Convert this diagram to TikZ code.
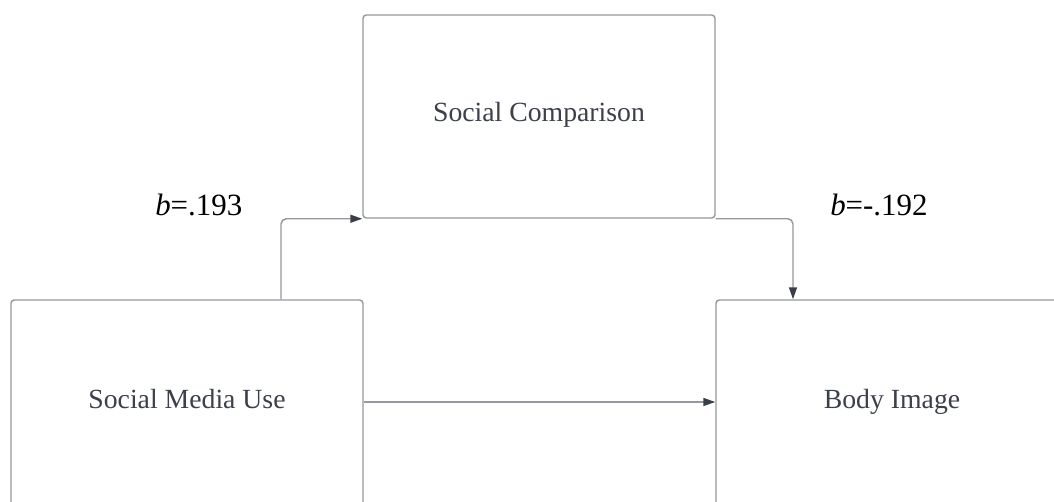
\documentclass[tikz,border=0pt]{standalone}
\usepackage{fontspec}
\setmainfont{Liberation Serif}
\usetikzlibrary{arrows.meta}
\definecolor{boxline}{HTML}{96989D}
\definecolor{txt}{HTML}{3C4049}
\definecolor{tipc}{HTML}{3A3E47}
\tikzset{
  varbox/.style={draw=boxline, line width=1.1pt, rounded corners=2.5pt, fill=white,
    minimum width=264pt, minimum height=152.25pt, inner sep=0pt,
    text=txt, font=\fontsize{20.8}{24}\selectfont,
    text height=14.5pt, text depth=7.75pt},
  lowbox/.style={varbox, minimum height=172.5pt, text depth=25pt},
  conn/.style={draw=boxline, line width=1.1pt, rounded corners=4pt,
    -{Triangle[length=9pt,width=6pt,fill=tipc,color=tipc]}},
  coef/.style={anchor=base west, inner sep=0pt, text=black, font=\fontsize{23.2}{26}\selectfont}
}
\begin{document}
\begin{tikzpicture}[x=0.75pt,y=-0.75pt]
\useasboundingbox (0,0) rectangle (1054,501);
\clip (0,0) rectangle (1054,501);
\node[varbox] (sc) at (539,116.5) {Social Comparison};
\node[lowbox] (smu) at (187,415) {Social Media Use};
\node[lowbox] (bi) at (892,415) {Body Image};
\draw[conn] ([xshift=70.5pt]smu.north) |- (sc.south west);
\draw[conn] (sc.south east) -| ([xshift=-74.25pt]bi.north);
\draw[conn] ([yshift=9.75pt]smu.east) -- ([yshift=9.75pt]bi.west);
\node[coef] (l1) at (155,215) {\textit{b}=.193};
\node[coef] (l2) at (830,215) {\textit{b}=-.192};
\end{tikzpicture}
\end{document}
